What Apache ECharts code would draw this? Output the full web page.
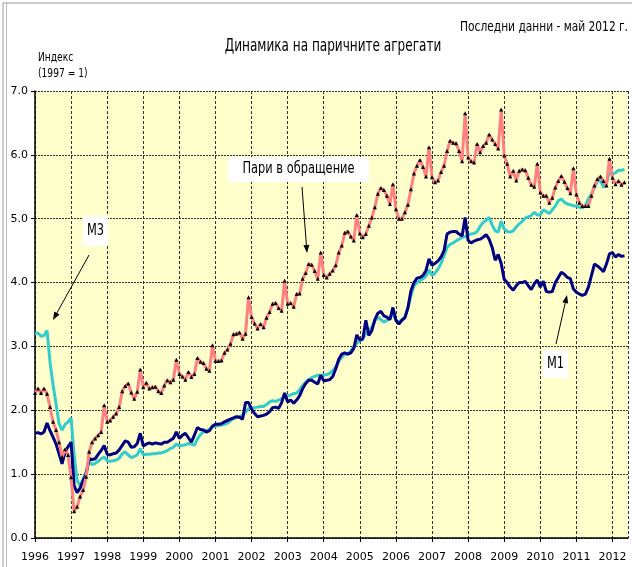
<!DOCTYPE html>
<html>
<head>
<meta charset="utf-8">
<title>Динамика на паричните агрегати</title>
<script src="https://cdn.jsdelivr.net/npm/echarts@6/dist/echarts.min.js"></script>
<style>
  html, body { margin: 0; padding: 0; background: #fff; }
  #chart { width: 632px; height: 567px; }
</style>
</head>
<body>
<div id="chart"></div>
<script>
// месечни данни, януари 1996 - май 2012
const startYear = 1996
const yearTicks = [1996, 1997, 1998, 1999, 2000, 2001, 2002, 2003, 2004, 2005, 2006, 2007, 2008, 2009, 2010, 2011, 2012]
const yTicks = [0, 1, 2, 3, 4, 5, 6, 7]

// Пари в обращение
const currency = [
  2.27, 2.34, 2.27, 2.34, 2.26, 2.05, 1.82, 1.69, 1.50, 1.27, 1.39, 1.30,
  0.95, 0.42, 0.49, 0.65, 0.75, 0.96, 1.35, 1.50, 1.56, 1.61, 1.66, 2.08,
  1.82, 1.84, 1.90, 1.95, 2.05, 2.30, 2.38, 2.42, 2.28, 2.18, 2.29, 2.64,
  2.36, 2.43, 2.34, 2.36, 2.37, 2.30, 2.27, 2.39, 2.47, 2.44, 2.48, 2.79,
  2.57, 2.53, 2.48, 2.60, 2.52, 2.57, 2.82, 2.76, 2.74, 2.65, 2.62, 3.02,
  2.77, 2.77, 2.78, 2.90, 2.95, 3.04, 3.19, 3.20, 3.22, 3.12, 3.20, 3.77,
  3.46, 3.36, 3.28, 3.35, 3.30, 3.45, 3.54, 3.67, 3.68, 3.60, 3.56, 4.03,
  3.67, 3.68, 3.62, 3.82, 3.83, 4.06, 4.15, 4.29, 4.28, 4.18, 4.06, 4.47,
  4.12, 4.08, 4.14, 4.19, 4.27, 4.47, 4.58, 4.78, 4.80, 4.72, 4.66, 5.06,
  4.77, 4.71, 4.76, 4.89, 5.02, 5.18, 5.39, 5.48, 5.45, 5.36, 5.23, 5.54,
  5.15, 5.00, 5.00, 5.10, 5.22, 5.46, 5.71, 5.83, 5.92, 5.81, 5.66, 6.12,
  5.65, 5.57, 5.60, 5.73, 5.83, 6.06, 6.22, 6.19, 6.18, 6.06, 5.90, 6.65,
  5.96, 5.90, 5.88, 6.17, 6.04, 6.14, 6.19, 6.32, 6.24, 6.17, 6.10, 6.71,
  5.99, 5.86, 5.66, 5.75, 5.60, 5.75, 5.77, 5.76, 5.64, 5.53, 5.50, 5.86,
  5.41, 5.36, 5.36, 5.25, 5.33, 5.49, 5.59, 5.67, 5.58, 5.48, 5.40, 5.79,
  5.38, 5.25, 5.20, 5.20, 5.20, 5.36, 5.52, 5.62, 5.66, 5.59, 5.52, 5.94,
  5.64, 5.54, 5.59, 5.53, 5.57
]

// М3
const m3 = [
  3.20, 3.21, 3.16, 3.17, 3.25, 2.75, 2.40, 2.10, 1.79, 1.69, 1.78, 1.82,
  1.88, 1.30, 0.90, 0.82, 0.92, 1.05, 1.20, 1.15, 1.17, 1.20, 1.24, 1.27,
  1.21, 1.20, 1.21, 1.22, 1.25, 1.32, 1.35, 1.30, 1.26, 1.28, 1.30, 1.40,
  1.30, 1.31, 1.31, 1.32, 1.32, 1.33, 1.33, 1.35, 1.37, 1.40, 1.42, 1.47,
  1.44, 1.45, 1.46, 1.48, 1.47, 1.45, 1.55, 1.62, 1.66, 1.68, 1.70, 1.75,
  1.75, 1.76, 1.77, 1.78, 1.80, 1.84, 1.87, 1.89, 1.90, 1.92, 1.97, 2.03,
  2.04, 2.04, 2.05, 2.06, 2.06, 2.09, 2.13, 2.15, 2.14, 2.16, 2.18, 2.22,
  2.23, 2.24, 2.26, 2.27, 2.32, 2.39, 2.44, 2.48, 2.51, 2.53, 2.55, 2.55,
  2.55, 2.56, 2.58, 2.62, 2.68, 2.77, 2.83, 2.88, 2.88, 2.93, 3.00, 3.05,
  3.08, 3.12, 3.20, 3.25, 3.30, 3.40, 3.46, 3.42, 3.38, 3.41, 3.44, 3.51,
  3.41, 3.38, 3.42, 3.46, 3.60, 3.80, 3.95, 4.00, 4.03, 4.06, 4.10, 4.20,
  4.11, 4.15, 4.21, 4.30, 4.42, 4.55, 4.60, 4.62, 4.65, 4.68, 4.71, 4.72,
  4.75, 4.76, 4.77, 4.80, 4.88, 4.94, 4.98, 5.02, 4.90, 4.81, 4.79, 4.96,
  4.84, 4.80, 4.79, 4.81, 4.87, 4.92, 4.96, 5.01, 5.03, 5.05, 5.10, 5.06,
  5.06, 5.14, 5.11, 5.08, 5.14, 5.20, 5.28, 5.31, 5.26, 5.23, 5.22, 5.20,
  5.20, 5.18, 5.17, 5.20, 5.31, 5.39, 5.49, 5.59, 5.60, 5.49, 5.57, 5.72,
  5.70, 5.72, 5.76, 5.76, 5.77
]

// М1
const m1 = [
  1.64, 1.65, 1.63, 1.66, 1.80, 1.68, 1.58, 1.47, 1.32, 1.16, 1.35, 1.43,
  1.50, 0.82, 0.71, 0.78, 0.90, 1.00, 1.24, 1.23, 1.24, 1.31, 1.37, 1.45,
  1.31, 1.30, 1.32, 1.33, 1.38, 1.45, 1.52, 1.50, 1.42, 1.43, 1.48, 1.64,
  1.44, 1.47, 1.49, 1.47, 1.49, 1.48, 1.47, 1.50, 1.50, 1.53, 1.56, 1.66,
  1.56, 1.61, 1.64, 1.57, 1.50, 1.61, 1.73, 1.70, 1.69, 1.66, 1.68, 1.75,
  1.78, 1.78, 1.79, 1.82, 1.84, 1.86, 1.88, 1.90, 1.89, 1.86, 2.12, 2.12,
  2.02, 1.95, 1.90, 1.91, 1.92, 1.94, 1.98, 2.04, 2.05, 2.03, 2.12, 2.27,
  2.13, 2.16, 2.11, 2.16, 2.23, 2.34, 2.42, 2.47, 2.47, 2.44, 2.41, 2.55,
  2.46, 2.47, 2.48, 2.53, 2.65, 2.80, 2.88, 2.90, 2.88, 2.90, 2.97, 3.18,
  3.10, 3.12, 3.41, 3.17, 3.25, 3.42, 3.52, 3.55, 3.48, 3.46, 3.42, 3.61,
  3.41, 3.35, 3.41, 3.45, 3.61, 3.87, 4.00, 4.07, 4.08, 4.11, 4.19, 4.37,
  4.27, 4.30, 4.34, 4.40, 4.50, 4.76, 4.79, 4.80, 4.80, 4.76, 4.73, 5.02,
  4.66, 4.62, 4.65, 4.67, 4.68, 4.71, 4.75, 4.68, 4.55, 4.35, 4.44, 4.30,
  4.05, 4.00, 3.93, 3.88, 3.95, 4.00, 4.00, 4.02, 3.95, 3.89, 3.98, 4.04,
  3.93, 4.02, 3.86, 3.85, 3.86, 4.00, 4.08, 4.16, 4.13, 4.08, 4.06, 3.90,
  3.85, 3.82, 3.80, 3.82, 3.93, 4.11, 4.29, 4.26, 4.22, 4.17, 4.29, 4.45,
  4.47, 4.40, 4.44, 4.41, 4.42
]

const FONT = "'DejaVu Sans', sans-serif"
const toPoints = vals => vals.map((v, i) => [startYear + i / 12, v])

// стрелка за надписите
function arrow (x1, y1, x2, y2) {
  const a = Math.atan2(y2 - y1, x2 - x1)
  const len = 8, w = 3
  const bx = x2 - len * Math.cos(a), by = y2 - len * Math.sin(a)
  return [
    { type: 'line', shape: { x1, y1, x2: bx, y2: by }, style: { stroke: '#000', lineWidth: 1 }, z: 20 },
    { type: 'polygon', shape: { points: [[x2, y2], [bx + w * Math.sin(a), by - w * Math.cos(a)], [bx - w * Math.sin(a), by + w * Math.cos(a)]] }, style: { fill: '#000' }, z: 20 }
  ]
}

// текст, свит по ширина като в оригинала
function txt (text, x, y, size, scale, align) {
  return {
    type: 'text', x, y, scaleX: scale, z: 22, silent: true,
    style: { text, x: 0, y: 0, fill: '#000', font: size + 'px ' + FONT, align: align || 'center', verticalAlign: 'middle' }
  }
}

function box (text, x, y, w, h) {
  return [
    { type: 'rect', shape: { x, y, width: w, height: h }, style: { fill: '#fff' }, z: 19, silent: true },
    txt(text, x + w / 2, y + h / 2, 15, 0.76)
  ]
}

const chart = echarts.init(document.getElementById('chart'))
chart.setOption({
  animation: false,
  backgroundColor: '#fff',
  grid: { left: 35, top: 91, right: 4, bottom: 29, backgroundColor: '#FFFFCC', show: true, borderWidth: 0 },
  xAxis: {
    type: 'value', min: 1996, max: 2012.43, interval: 1,
    axisLine: { lineStyle: { color: '#000', width: 1.5 } },
    axisTick: { show: true, length: 4, lineStyle: { color: '#000' } },
    axisLabel: {
      margin: 14, color: '#000', fontFamily: FONT, fontSize: 11, showMaxLabel: false,
      formatter: v => (yearTicks.includes(v) ? String(v) : '')
    },
    splitLine: { show: true, lineStyle: { color: '#333', type: [3, 2], width: 1 } }
  },
  yAxis: {
    type: 'value', min: 0, max: 7, interval: 1,
    axisLine: { show: true, lineStyle: { color: '#000', width: 1.5 } },
    axisTick: { show: true, length: 4, lineStyle: { color: '#000' } },
    axisLabel: { margin: 7, color: '#000', fontFamily: FONT, fontSize: 11, formatter: v => (yTicks.includes(v) ? v.toFixed(1) : '') },
    splitLine: { show: true, lineStyle: { color: '#333', type: [2, 1], width: 1 } }
  },
  series: [
    { name: 'М3', type: 'line', data: toPoints(m3), showSymbol: false, lineStyle: { color: '#33CCCC', width: 3 }, itemStyle: { color: '#33CCCC' }, z: 2 },
    { name: 'М1', type: 'line', data: toPoints(m1), showSymbol: false, lineStyle: { color: '#000080', width: 3 }, itemStyle: { color: '#000080' }, z: 3 },
    { name: 'Пари в обращение', type: 'line', data: toPoints(currency), symbol: 'triangle', symbolSize: 4, showAllSymbol: true, lineStyle: { color: '#FF8080', width: 3 }, itemStyle: { color: '#000' }, z: 4 }
  ],
  graphic: [
    { type: 'rect', shape: { x: 3, y: 3, width: 700, height: 700 }, style: { fill: null, stroke: '#999', lineWidth: 1 }, silent: true },
    { type: 'line', shape: { x1: 6.5, y1: 3, x2: 6.5, y2: 567 }, style: { stroke: '#bbb', lineWidth: 1 }, silent: true },
    txt('Последни данни - май 2012 г.', 628, 27, 14, 0.76, 'right'),
    txt('Динамика на паричните агрегати', 333, 47, 17, 0.71),
    txt('Индекс', 38, 58, 12, 0.76, 'left'),
    txt('(1997 = 1)', 38, 74, 12, 0.76, 'left'),
    ...box('М3', 83, 216, 25, 30),
    ...arrow(89, 255, 53, 320),
    ...box('Пари в обращение', 228, 157, 141, 25),
    ...arrow(302, 187, 307, 253),
    ...box('М1', 543, 350, 25, 28),
    ...arrow(556, 344, 567, 295)
  ]
})
</script>
</body>
</html>
